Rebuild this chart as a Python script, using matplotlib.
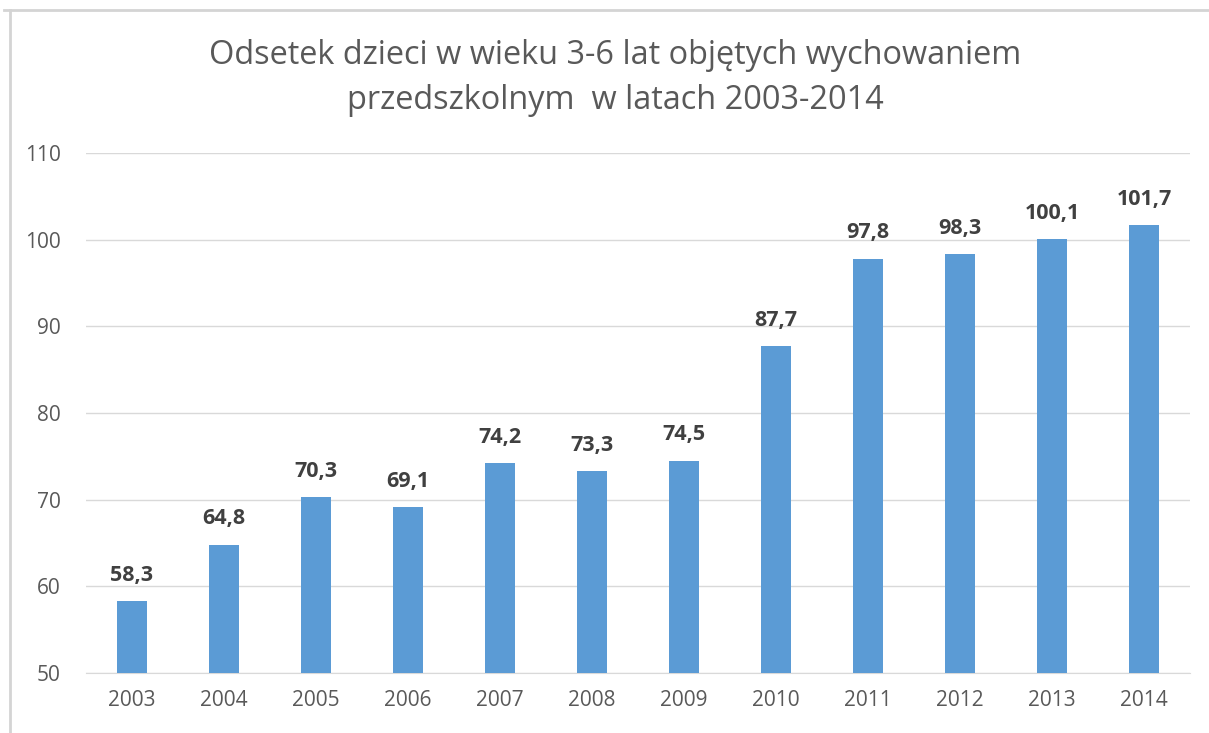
import matplotlib
matplotlib.use("Agg")
import matplotlib.pyplot as plt
from matplotlib.lines import Line2D

years = ["2003", "2004", "2005", "2006", "2007", "2008", "2009", "2010", "2011", "2012", "2013", "2014"]
values = [58.3, 64.8, 70.3, 69.1, 74.2, 73.3, 74.5, 87.7, 97.8, 98.3, 100.1, 101.7]
yticks = [50, 60, 70, 80, 90, 100, 110]
title = "Odsetek dzieci w wieku 3-6 lat objętych wychowaniem\nprzedszkolnym  w latach 2003-2014"

plt.rcParams['font.family'] = ['Open Sans', 'DejaVu Sans']

fig = plt.figure(figsize=(12.09, 7.33), dpi=100)
ax = fig.add_axes([86/1209, 1-673/733, (1190-86)/1209, (673-153)/733])

x = list(range(len(years)))
ax.bar(x, values, width=0.33, color="#5b9bd5", zorder=3)
for xi, v in zip(x, values):
    ax.annotate(f"{v:.1f}".replace(".", ","), (xi, v), xytext=(0, 11), textcoords="offset points",
                ha="center", va="bottom", fontsize=15.5, fontweight="bold", color="#404040")

ax.set_xlim(-0.5, len(years) - 0.5)
ax.set_ylim(50, 110)
ax.set_yticks(yticks)
ax.set_xticks(x)
ax.set_xticklabels(years)
ax.grid(axis="y", color="#d9d9d9", linewidth=1, zorder=0)
for s in ["top", "right", "left"]:
    ax.spines[s].set_visible(False)
ax.spines["bottom"].set_color("#d9d9d9")
ax.tick_params(axis="both", length=0, labelsize=15, labelcolor="#595959")
ax.tick_params(axis="y", pad=18)
ax.tick_params(axis="x", pad=12)

fig.text(615/1209, 1-78/733, title, ha="center", va="center", fontsize=23.4, color="#595959",
         linespacing=1.45)

fig.add_artist(Line2D([4/1209, 1], [1-9.5/733, 1-9.5/733], color="#d4d4d4", linewidth=2, transform=fig.transFigure))
fig.add_artist(Line2D([10/1209, 10/1209], [0, 1-9.5/733], color="#d4d4d4", linewidth=2, transform=fig.transFigure))

fig.savefig("out.png", dpi=100)
